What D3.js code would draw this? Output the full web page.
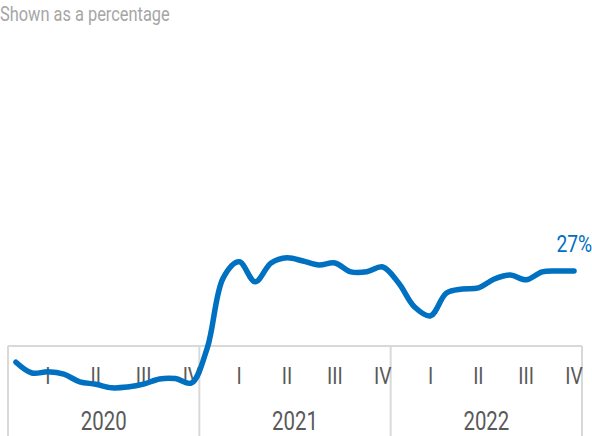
<!DOCTYPE html>
<html>
<head>
<meta charset="utf-8">
<script src="https://cdn.jsdelivr.net/npm/d3@7"></script>
<style>
  html, body { margin: 0; padding: 0; background: #fff; }
  svg { display: block; font-family: Roboto, "Noto Sans", sans-serif; }
</style>
</head>
<body>
<div id="chart"></div>
<script>
// Data
const years = ["2020", "2021", "2022"];
const quarters = ["I", "II", "III", "IV"];
const months = years.flatMap(y => d3.range(1, 13).map(m => `${y}-${String(m).padStart(2, "0")}`));
const values = [
    4.2, 1.5, 1.8, 1.2, -0.7, -1.3, -2.2, -2.0, -1.3, 0.0, 0.1, -1.0,
    7.8, 25.3, 29.3, 24.3, 29.0, 30.3, 29.5, 28.5, 29.0, 26.8, 26.8, 28.0,
    24.0, 18.0, 15.8, 21.5, 22.5, 22.8, 25.0, 26.0, 24.8, 26.8, 27.0, 27.0
];
const subtitle = "Shown as a percentage";

const WIDTH = 592, HEIGHT = 436;
const SQUEEZE = 0.8; // narrow type, like the original

const svg = d3.select("#chart").append("svg")
    .attr("width", WIDTH)
    .attr("height", HEIGHT);

// Scales
const x = d3.scaleBand().domain(months).range([8, 582]);
const xc = m => x(m) + x.bandwidth() / 2;
const y = d3.scaleLinear().domain([-5, 35]).range([399, 239]);

function label(g, txt, px, py, opts) {
    return g.append("text")
        .attr("transform", `translate(${px},${py}) scale(${SQUEEZE},1)`)
        .attr("text-anchor", opts.anchor || "start")
        .attr("font-size", opts.size)
        .attr("fill", opts.color)
        .text(txt);
}

// Subtitle
label(svg, subtitle, 0, 20.5, { size: 20.5, color: "#a6a6a6" });

// Category axis box
const axisTop = 346;
const axis = svg.append("g").attr("class", "x axis");
axis.append("line")
    .attr("x1", x.range()[0]).attr("x2", x.range()[1])
    .attr("y1", axisTop).attr("y2", axisTop)
    .attr("stroke", "#d9d9d9").attr("stroke-width", 2);

const yearEdges = years.map(yr => x(`${yr}-01`)).concat([x.range()[1]]);
axis.selectAll(".divider")
    .data(yearEdges)
    .join("line")
    .attr("class", "divider")
    .attr("x1", d => d).attr("x2", d => d)
    .attr("y1", axisTop).attr("y2", HEIGHT)
    .attr("stroke", "#d9d9d9").attr("stroke-width", 2);

// Quarter labels at the last month of each quarter
years.forEach(yr => {
    quarters.forEach((q, i) => {
        const m = `${yr}-${String((i + 1) * 3).padStart(2, "0")}`;
        label(axis, q, xc(m), 383.5, { size: 24, color: "#595959", anchor: "middle" });
    });
    const mid = (x(`${yr}-01`) + x(`${yr}-12`) + x.bandwidth()) / 2;
    label(axis, yr, mid, 430, { size: 25.5, color: "#595959", anchor: "middle" });
});

// Line
const line = d3.line()
    .x((d, i) => xc(months[i]))
    .y(d => y(d))
    .curve(d3.curveCatmullRom.alpha(0.5));

svg.append("path")
    .datum(values)
    .attr("d", line)
    .attr("fill", "none")
    .attr("stroke", "#0070c0")
    .attr("stroke-width", 5.5)
    .attr("stroke-linecap", "round")
    .attr("stroke-linejoin", "round");

// End label
const last = values[values.length - 1];
label(svg, `${Math.round(last)}%`, xc(months[months.length - 1]) - 17.5, y(last) - 19,
    { size: 24, color: "#0070c0" });
</script>
</body>
</html>
